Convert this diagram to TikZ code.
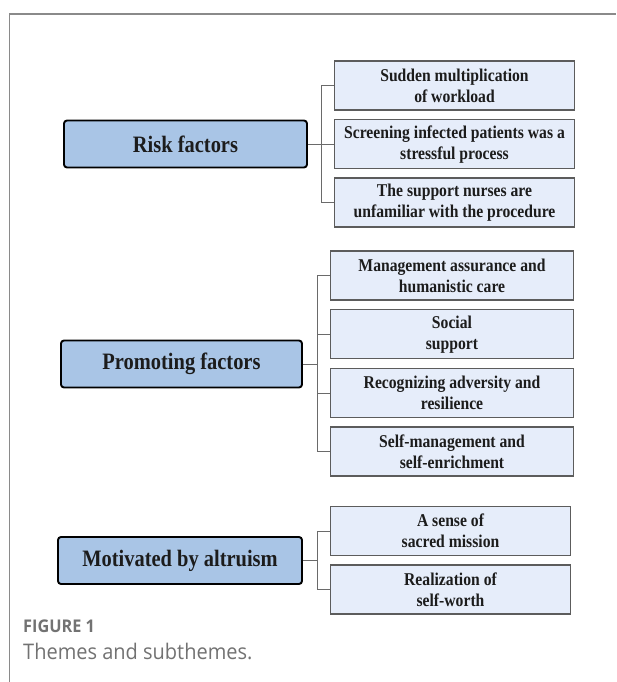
\documentclass[tikz,border=0pt]{standalone}
\usepackage{fontspec}
\setmainfont{Liberation Serif}
\newfontfamily\themefont[FakeStretch=0.87]{Liberation Serif}
\newfontfamily\capfont[FakeStretch=0.93]{Open Sans}
\definecolor{themefill}{HTML}{A9C5E6}
\definecolor{subfill}{HTML}{E6EDFA}
\definecolor{subborder}{HTML}{5C5C5C}
\definecolor{linkgray}{HTML}{6A6A6A}
\definecolor{textdark}{HTML}{1C1C1C}
\definecolor{framegray}{HTML}{8A8A8A}
\definecolor{capgray}{HTML}{727272}
\begin{document}
\begin{tikzpicture}[x=1pt,y=-1pt,
  theme/.style={draw=black, line width=1.9pt, rounded corners=3pt, fill=themefill,
    minimum height=47pt, inner sep=0pt, text=textdark,
    font=\themefont\bfseries\fontsize{23.5}{28}\selectfont},
  sub/.style={draw=subborder, line width=1.3pt, fill=subfill, minimum height=49pt,
    inner sep=0pt, align=center, text=textdark,
    font=\themefont\bfseries\fontsize{18}{21}\selectfont},
  link/.style={draw=linkgray, line width=1pt},
  caption/.style={anchor=base west, inner sep=0pt, text=capgray}]
\useasboundingbox (0,0) rectangle (616,682);
% frame
\draw[framegray, line width=1.4pt] (9.3,682) -- (9.3,14) -- (616,14);

% group 1
\node[theme, minimum width=243pt] (risk) at (185.5,144) {Risk factors};
\node[sub, minimum width=240pt] (r1) at (454.5,85.5) {Sudden multiplication\\of workload};
\node[sub, minimum width=240pt] (r2) at (454.5,144.3) {Screening infected patients was a\\stressful process};
\node[sub, minimum width=240pt] (r3) at (454.5,202.5) {The support nurses are\\unfamiliar with the procedure};
\coordinate (b1) at (321,0);
\draw[link] (r1.west) -- (r1.west -| b1) -- (r3.west -| b1) -- (r3.west);
\draw[link] (r2.west) -- (r2.west -| b1);
\draw[link] (risk.east) -- (risk.east -| b1);

% group 2
\node[theme, minimum width=241pt] (prom) at (181.5,364) {Promoting factors};
\node[sub, minimum width=243pt] (p1) at (452,275.5) {Management assurance and\\humanistic care};
\node[sub, minimum width=243pt] (p2) at (452,334.3) {Social\\support};
\node[sub, minimum width=243pt] (p3) at (452,393) {Recognizing adversity and\\resilience};
\node[sub, minimum width=243pt] (p4) at (452,451.6) {Self-management and\\self-enrichment};
\coordinate (b2) at (317.5,0);
\draw[link] (p1.west) -- (p1.west -| b2) -- (p4.west -| b2) -- (p4.west);
\draw[link] (p2.west) -- (p2.west -| b2);
\draw[link] (p3.west) -- (p3.west -| b2);
\draw[link] (prom.east) -- (prom.east -| b2);

% group 3
\node[theme, minimum width=244pt] (motiv) at (180,560.5) {Motivated by altruism};
\node[sub, minimum width=240pt] (m1) at (450.5,531) {A sense of\\sacred mission};
\node[sub, minimum width=240pt] (m2) at (450.5,589.5) {Realization of\\self-worth};
\coordinate (b3) at (317.5,0);
\draw[link] (m1.west) -- (m1.west -| b3) -- (m2.west -| b3) -- (m2.west);
\draw[link] (motiv.east) -- (motiv.east -| b3);

% caption
\node[caption, font=\capfont\bfseries\fontsize{17.5}{20}\selectfont] (fig) at (23,632) {FIGURE 1};
\node[caption, font=\capfont\fontsize{21.5}{25}\selectfont] (capt) at (23,659) {Themes and subthemes.};
\end{tikzpicture}
\end{document}
